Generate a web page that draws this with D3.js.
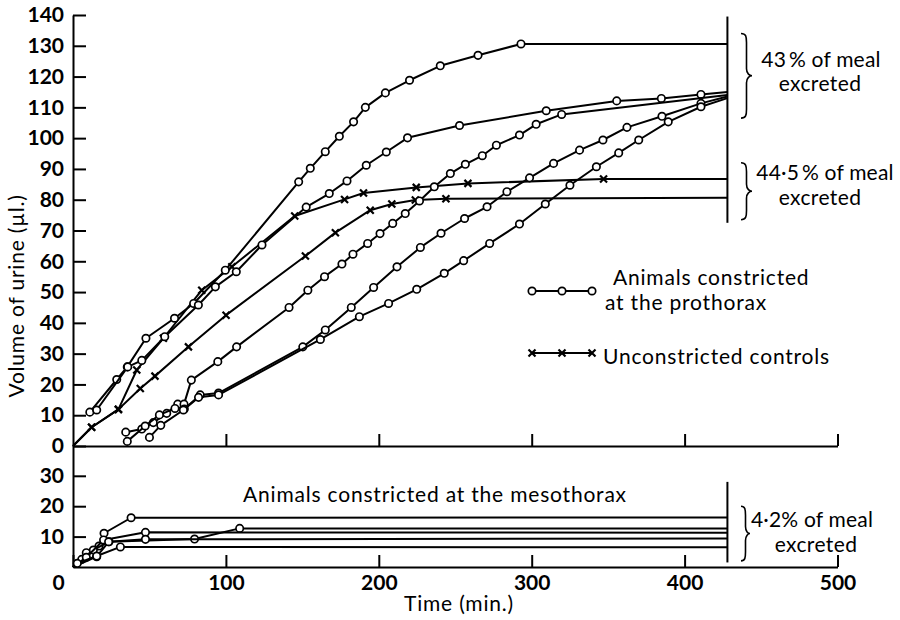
<!DOCTYPE html>
<html>
<head>
<meta charset="utf-8">
<script src="https://cdn.jsdelivr.net/npm/d3@7"></script>
<style>
  body { margin: 0; background: #fff; }
  svg text { font-family: Lato, "Open Sans", sans-serif; fill: #000; }
</style>
</head>
<body>
<svg id="chart" width="900" height="620"></svg>
<script>
// Cumulative urine volume (µl) against time (min) after a blood meal.

// Animals constricted at the prothorax: [time, volume]
const prothoraxA = [[11,11],[28.6,21.6],[35.5,25.7],[47.7,35],[66.4,41.5],[78.9,46.3],[99.6,57.1],[147.6,85.8],[155.2,90.2],[165,95.6],[174.2,100.6],[183.5,105.3],[191.2,110],[204.3,114.7],[220.1,118.8],[240.2,123.5],[264.9,126.9],[293,130.6]];
const prothoraxB = [[15.5,11.7],[35.8,25.7],[45,27.8],[60,35.5],[82,45.8],[93.1,51.7],[106.8,56.6],[123.6,65.3],[152.5,77.6],[167.6,82],[179.2,86.1],[191.8,91.2],[204.9,95.5],[218.8,100.1],[252.8,104.1],[309.5,108.9],[355.6,112.1],[384.8,112.9],[410.7,114.2]];
const prothoraxC = [[34.5,4.5],[45,5.5],[52.5,7.6],[61.3,10.6],[68.5,13.6],[72.6,13.6],[77.4,21.4],[94.7,27.4],[107,32.2],[141.3,45],[153.6,50.6],[164.5,55],[175.9,59.1],[183.1,62.3],[192.7,65.8],[200.8,69],[209.1,72.3],[217.3,75.5],[226.6,79.6],[236.3,84.2],[246.8,88.5],[256.6,91.5],[267.7,94.3],[276.9,97.7],[292,101],[302.9,104.5],[319.6,107.7]];
const prothoraxD = [[35.5,1.5],[47.2,6.5],[56.5,10.1],[66.7,12.2],[72.8,12],[83.2,16.6],[95.2,17.2],[150.3,32.2],[165,37.7],[182,45],[196.6,51.5],[211.9,58.2],[227.2,64.5],[240.7,69.1],[256.1,73.9],[270.8,77.7],[283.8,82.6],[298.6,87.1],[314.3,91.8],[331.3,96.1],[346.6,99.4],[362.3,103.5],[385.2,107.1],[410.7,111.3]];
const prothoraxE = [[50,2.8],[57.4,6.7],[72.2,11.7],[82.1,15.8],[95.2,16.6],[161.8,34.6],[187.3,42],[206.4,46.3],[224.8,50.9],[242.8,56.1],[255.5,60.2],[272.5,65.8],[292,72.1],[308.9,78.6],[325,84.7],[342.3,90.7],[356.9,95.2],[370,99.4],[389.3,105.3],[410.7,110.2]];
// volume at the end of the record for each prothorax animal
const prothoraxFinal = [130.6, 115, 114, 113.5, 113];

// Unconstricted controls
const control1 = [[0,0],[12.2,6.1],[29.7,11.9],[44,18.7],[53.6,22.7],[75.5,32.2],[100.1,42.5],[152,61.7],[171.6,69.3],[194.4,76.6],[208.5,78.6],[223.9,79.9],[243.9,80.3]];
const control2 = [[0,0],[12.2,6.1],[29.7,11.9],[41.7,24.7],[59.1,35],[84.2,50.6],[103.9,58.2],[145,74.7],[177.6,80.1],[190,82.2],[224.5,84],[258.3,85.3],[347,86.7]];
const controlFinal = [80.6, 86.7];

// Animals constricted at the mesothorax
const meso1 = [[0,0],[8.7,4.7],[17,6.9],[20.3,11.1],[38,16.2]];
const meso2 = [[0,0],[5.7,2.5],[13.3,5.6],[23.5,8.3],[79.5,9.2],[109,12.7]];
const meso3 = [[0,0],[8.7,3.2],[20,8.9],[47.4,11.4]];
const meso4 = [[0,0],[15.5,3.4],[23.3,8.3],[47.4,9.1]];
const meso5 = [[0,0],[2.8,1.2],[15.5,3.6],[31,6.6]];
const mesoFinal = [16.3, 12.7, 11.3, 9.4, 6.5];

// end of the observation period (min)
const endTime = 428;

// axis ticks
const timeTicks = [0, 100, 200, 300, 400, 500];
const volumeTicks = d3.range(0, 141, 10);
const mesoTicks = [10, 20, 30];

// ---------------------------------------------------------------
const svg = d3.select("#chart");
const FONT = 21;

const x = d3.scaleLinear().domain([0, 500]).range([73, 837.5]);
const yUp = d3.scaleLinear().domain([0, 140]).range([446, 15]);
const yLo = d3.scaleLinear().domain([0, 40]).range([567, 445.4]);

function styleAxis(g) {
  g.attr("font-size", null).attr("font-family", null);
  g.selectAll("path.domain").attr("stroke", "#000").attr("stroke-width", 2);
  g.selectAll(".tick line").attr("stroke", "#000").attr("stroke-width", 2);
  g.selectAll(".tick text").style("font-size", FONT + "px").style("font-weight", 700);
}

// upper panel: volume axis
svg.append("g")
  .attr("transform", `translate(${x(0)},0)`)
  .call(d3.axisLeft(yUp).tickValues(volumeTicks).tickSize(-13).tickSizeOuter(0).tickPadding(9))
  .call(styleAxis);

// upper panel: baseline with time ticks, no labels
svg.append("g")
  .attr("transform", `translate(0,${yUp(0)})`)
  .call(d3.axisBottom(x).tickValues(timeTicks.slice(1)).tickSize(-12).tickSizeOuter(0).tickFormat(() => ""))
  .call(styleAxis);

// lower panel: volume axis
svg.append("g")
  .attr("transform", `translate(${x(0)},0)`)
  .call(d3.axisLeft(yLo).tickValues(mesoTicks).tickSize(-13).tickSizeOuter(0).tickPadding(9))
  .call(styleAxis);

// lower panel: time axis with labels
const xAxisG = svg.append("g")
  .attr("transform", `translate(0,${yLo(0)})`)
  .call(d3.axisBottom(x).tickValues(timeTicks).tickSize(-12).tickSizeOuter(0).tickPadding(8))
  .call(styleAxis);
xAxisG.selectAll(".tick text").filter(d => d === 0).attr("dx", -15);

// axis titles
svg.append("text")
  .attr("x", 459).attr("y", 611)
  .attr("text-anchor", "middle")
  .style("font-size", FONT + "px").style("letter-spacing", "0.8px")
  .text("Time (min.)");

svg.append("text")
  .attr("transform", "translate(24,296) rotate(-90)")
  .attr("text-anchor", "middle")
  .style("font-size", FONT + "px").style("letter-spacing", "0.8px")
  .text("Volume of urine (µl.)");

// ---------------------------------------------------------------
function drawSeries(pts, finalVol, yScale, marker) {
  const path = pts.concat([[endTime, finalVol]]);
  const line = d3.line().x(d => x(d[0])).y(d => yScale(d[1]));
  svg.append("path")
    .attr("d", line(path))
    .attr("fill", "none").attr("stroke", "#000")
    .attr("stroke-width", 2).attr("stroke-linejoin", "round");
  const pts2 = pts.filter(d => d[0] > 0);
  if (marker === "circle") {
    svg.append("g").selectAll("circle").data(pts2).join("circle")
      .attr("cx", d => x(d[0])).attr("cy", d => yScale(d[1])).attr("r", 3.7)
      .attr("fill", "#fff").attr("stroke", "#000").attr("stroke-width", 1.7);
  } else {
    svg.append("g").selectAll("path").data(pts2).join("path")
      .attr("transform", d => `translate(${x(d[0])},${yScale(d[1])})`)
      .attr("d", "M-3.5,-3.5L3.5,3.5M-3.5,3.5L3.5,-3.5")
      .attr("stroke", "#000").attr("stroke-width", 2.2);
  }
}

[control1, control2].forEach((s, i) => drawSeries(s, controlFinal[i], yUp, "cross"));
[prothoraxA, prothoraxB, prothoraxC, prothoraxD, prothoraxE]
  .forEach((s, i) => drawSeries(s, prothoraxFinal[i], yUp, "circle"));
[meso1, meso2, meso3, meso4, meso5]
  .forEach((s, i) => drawSeries(s, mesoFinal[i], yLo, "circle"));

// end-of-record markers
function vline(scale, v0, v1) {
  svg.append("line")
    .attr("x1", x(endTime)).attr("x2", x(endTime))
    .attr("y1", scale(v0)).attr("y2", scale(v1))
    .attr("stroke", "#000").attr("stroke-width", 2);
}
vline(yUp, 139.5, 72.5);
vline(yLo, 28, 1.5);

// curly braces grouping the final volumes
function brace(x0, yA, yB, w) {
  const xm = x0 + w * 0.5, ym = (yA + yB) / 2;
  const d = `M${x0},${yA} C${x0 + w * 0.45},${yA} ${xm},${yA + 3} ${xm},${yA + 9}` +
    ` L${xm},${ym - 7} C${xm},${ym - 2} ${x0 + w * 0.8},${ym} ${x0 + w},${ym}` +
    ` C${x0 + w * 0.8},${ym} ${xm},${ym + 2} ${xm},${ym + 7}` +
    ` L${xm},${yB - 9} C${xm},${yB - 3} ${x0 + w * 0.45},${yB} ${x0},${yB}`;
  svg.append("path").attr("d", d).attr("fill", "none")
    .attr("stroke", "#000").attr("stroke-width", 1.6);
}
brace(741, yUp(134), yUp(106.5), 11);
brace(741, yUp(92), yUp(73.5), 11);
brace(741, yLo(20), yLo(2), 9);

function label(txt, cx, y, anchor, spacing) {
  svg.append("text")
    .attr("x", cx).attr("y", y)
    .attr("text-anchor", anchor || "middle")
    .style("font-size", FONT + "px").style("letter-spacing", (spacing || 0.8) + "px")
    .text(txt);
}
label("43\u2009% of meal", 821, 67, "middle", 0.2);
label("excreted", 820, 91, "middle", 0.4);
label("44·5\u2009% of meal", 825, 180, "middle", 0.2);
label("excreted", 820, 205, "middle", 0.4);
label("4·2% of meal", 812, 527, "middle", 0.2);
label("excreted", 816, 552, "middle", 0.4);
label("Animals constricted at the mesothorax", 435, 502);

// legend
const legendCircleXs = [532, 562, 592];
svg.append("line").attr("x1", 532).attr("x2", 592).attr("y1", 291).attr("y2", 291)
  .attr("stroke", "#000").attr("stroke-width", 2);
svg.append("g").selectAll("circle").data(legendCircleXs).join("circle")
  .attr("cx", d => d).attr("cy", 291).attr("r", 3.7)
  .attr("fill", "#fff").attr("stroke", "#000").attr("stroke-width", 1.7);
svg.append("line").attr("x1", 531).attr("x2", 592).attr("y1", 353).attr("y2", 353)
  .attr("stroke", "#000").attr("stroke-width", 2);
svg.append("g").selectAll("path").data(legendCircleXs).join("path")
  .attr("transform", d => `translate(${d},353)`)
  .attr("d", "M-3.5,-3.5L3.5,3.5M-3.5,3.5L3.5,-3.5")
  .attr("stroke", "#000").attr("stroke-width", 2.2);
label("Animals constricted", 613, 285, "start");
label("at the prothorax", 605, 310, "start");
label("Unconstricted controls", 603, 364, "start");
</script>
</body>
</html>
